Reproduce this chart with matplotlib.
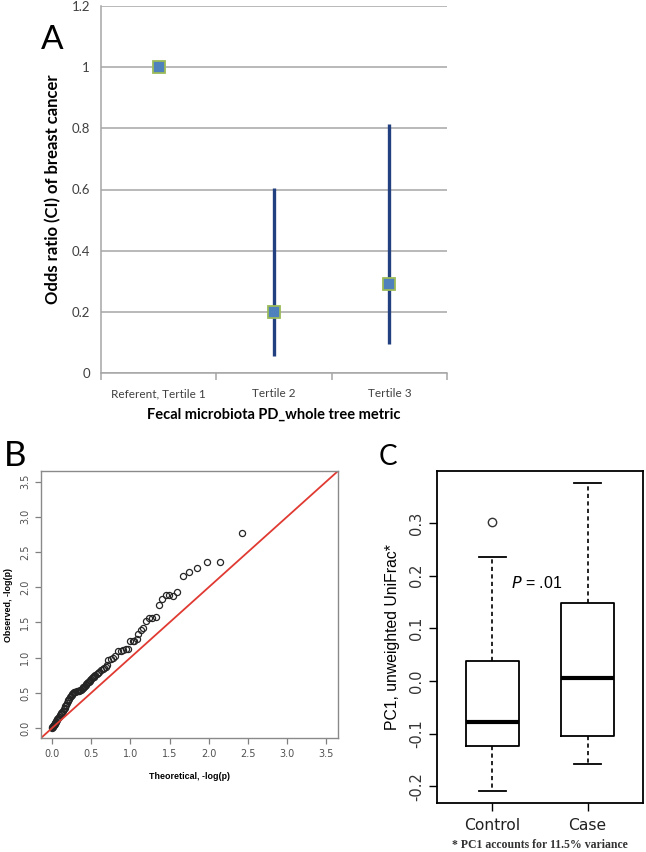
import numpy as np
import matplotlib.pyplot as plt
from matplotlib.ticker import FuncFormatter

# ---------------- Panel A: odds ratios by tertile ----------------
tertiles = ['Referent, Tertile 1', 'Tertile 2', 'Tertile 3']
odds = [1.0, 0.20, 0.29]
ci_low = [1.0, 0.055, 0.095]
ci_high = [1.0, 0.605, 0.815]

# ---------------- Panel B: QQ plot ----------------
qq_theoretical = [
    0.000, 0.005, 0.010, 0.015, 0.020, 0.025, 0.030, 0.035, 0.040, 0.045,
    0.050, 0.055, 0.060, 0.070, 0.080, 0.090, 0.100, 0.110, 0.120, 0.130,
    0.140, 0.150, 0.160, 0.170, 0.180, 0.190, 0.200, 0.210, 0.220, 0.230,
    0.240, 0.250, 0.260, 0.270, 0.280, 0.290, 0.300, 0.315, 0.330, 0.345,
    0.360, 0.370, 0.380, 0.390, 0.400, 0.410, 0.420, 0.430, 0.440, 0.450,
    0.460, 0.470, 0.480, 0.490, 0.500, 0.510, 0.520, 0.530, 0.540, 0.555,
    0.570, 0.585, 0.600, 0.620, 0.645, 0.670, 0.690, 0.700, 0.720, 0.750,
    0.780, 0.810, 0.840, 0.880, 0.910, 0.940, 0.970, 0.990, 1.030, 1.050,
    1.080, 1.100, 1.130, 1.160, 1.200, 1.240, 1.280, 1.330, 1.370, 1.405,
    1.450, 1.490, 1.540, 1.600, 1.675, 1.755, 1.857, 1.975, 2.148, 2.422,
]
qq_observed = [
    0.000, 0.010, 0.020, 0.030, 0.040, 0.045, 0.050, 0.060, 0.070, 0.080,
    0.090, 0.100, 0.110, 0.125, 0.140, 0.160, 0.180, 0.195, 0.210, 0.230,
    0.250, 0.270, 0.290, 0.310, 0.330, 0.355, 0.380, 0.400, 0.420, 0.440,
    0.460, 0.475, 0.490, 0.500, 0.510, 0.515, 0.520, 0.525, 0.530, 0.530,
    0.535, 0.545, 0.555, 0.565, 0.580, 0.590, 0.600, 0.615, 0.625, 0.640,
    0.650, 0.660, 0.675, 0.690, 0.700, 0.710, 0.720, 0.730, 0.740, 0.750,
    0.765, 0.780, 0.800, 0.820, 0.840, 0.860, 0.870, 0.900, 0.970, 0.980,
    0.990, 1.030, 1.090, 1.100, 1.110, 1.120, 1.120, 1.240, 1.240, 1.230,
    1.260, 1.340, 1.390, 1.420, 1.520, 1.560, 1.570, 1.580, 1.750, 1.840,
    1.890, 1.890, 1.880, 1.930, 2.156, 2.223, 2.270, 2.355, 2.355, 2.768,
]

# ---------------- Panel C: PC1 boxplots ----------------
groups = ['Control', 'Case']
box_q1 = [-0.123, -0.104]
box_med = [-0.079, 0.005]
box_q3 = [0.037, 0.149]
whisk_lo = [-0.209, -0.157]
whisk_hi = [0.236, 0.376]
outliers = [[0.302], []]

W, H = 646, 852
fig = plt.figure(figsize=(W / 100, H / 100), dpi=100)


def box(l, t, r, b):
    # pixel box -> figure fraction
    return [l / W, 1 - b / H, (r - l) / W, (b - t) / H]


# ---------------- A ----------------
axA = fig.add_axes(box(101, 6, 447, 373))
x = np.arange(1, len(tertiles) + 1)
axA.vlines(x, ci_low, ci_high, color='#22407f', lw=2.4, zorder=3)
axA.plot(x, odds, 's', ms=8, mfc='#4f81bd', mec='#9bbb59', mew=1.3, ls='none', zorder=4)
axA.set_xlim(0.5, 3.5)
axA.set_ylim(0, 1.2)
axA.set_yticks(np.arange(0, 1.21, 0.2))
axA.yaxis.set_major_formatter(FuncFormatter(lambda v, p: f'{v:g}'))
axA.grid(axis='y', color='#a6a6a6', lw=1.1)
axA.set_axisbelow(True)
for s in ['top', 'right']:
    axA.spines[s].set_visible(False)
for s in ['left', 'bottom']:
    axA.spines[s].set_color('#a6a6a6')
    axA.spines[s].set_linewidth(1.1)
axA.set_xticks(x)
axA.set_xticklabels(tertiles)
axA.set_xticks([0.5, 1.5, 2.5, 3.5], minor=True)
axA.tick_params(axis='x', which='major', length=0, pad=11, labelsize=8.5, labelcolor='#404040')
axA.tick_params(axis='x', which='minor', length=5, color='#a6a6a6', width=1.1)
axA.tick_params(axis='y', length=0, pad=8, labelsize=9.5, labelcolor='#404040')
for lab in axA.get_xticklabels() + axA.get_yticklabels():
    lab.set_family('Lato')
axA.set_ylabel('Odds ratio (CI) of breast cancer', family='Lato', fontsize=12,
               fontweight='bold', labelpad=7)
axA.set_xlabel('Fecal microbiota PD_whole tree metric', family='Lato', fontsize=10.5,
               fontweight='bold', labelpad=6)

# ---------------- B ----------------
axB = fig.add_axes(box(41, 471, 338, 738))
axB.plot(qq_theoretical, qq_observed, 'o', mfc='none', mec='#252525', ms=4.4, mew=0.9, ls='none')
axB.set_xlim(-0.14, 3.65)
axB.set_ylim(-0.14, 3.65)
axB.axline((0, 0), slope=1, color='#e03a32', lw=1.3)
ticksB = np.arange(0, 3.51, 0.5)
axB.set_xticks(ticksB)
axB.set_yticks(ticksB)
fmtB = FuncFormatter(lambda v, p: f'{v:.1f}')
axB.xaxis.set_major_formatter(fmtB)
axB.yaxis.set_major_formatter(fmtB)
axB.tick_params(length=4, width=0.9, color='#808080', labelsize=7, labelcolor='#505050', pad=4)
axB.tick_params(axis='y', labelrotation=90)
for lab in axB.get_yticklabels():
    lab.set_va('center')
for s in axB.spines.values():
    s.set_color('#8a8a8a')
    s.set_linewidth(1.0)
axB.set_xlabel('Theoretical, -log(p)', family='Liberation Sans', fontsize=6.4,
               fontweight='bold', labelpad=9)
axB.set_ylabel('Observed, -log(p)', family='Liberation Sans', fontsize=6.4,
               fontweight='bold', labelpad=5)

# ---------------- C ----------------
axC = fig.add_axes(box(437, 471, 643, 803))
stats = []
for i, g in enumerate(groups):
    stats.append({'label': g, 'q1': box_q1[i], 'med': box_med[i], 'q3': box_q3[i],
                  'whislo': whisk_lo[i], 'whishi': whisk_hi[i], 'fliers': outliers[i]})
axC.bxp(stats, positions=[1, 2], widths=0.56,
        boxprops=dict(color='black', lw=1.3),
        medianprops=dict(color='black', lw=3),
        whiskerprops=dict(color='black', lw=1.2, ls=(0, (2.5, 2))),
        capprops=dict(color='black', lw=1.3),
        flierprops=dict(marker='o', mfc='none', mec='#333333', ms=6, mew=1))
axC.set_xlim(0.42, 2.58)
axC.set_ylim(-0.232, 0.399)
axC.set_yticks(np.arange(-0.2, 0.31, 0.1))
axC.yaxis.set_major_formatter(FuncFormatter(lambda v, p: f'{v:.1f}'.replace('-0.0', '0.0')))
axC.tick_params(axis='y', length=6, width=1, labelsize=10.5, labelcolor='#333333',
                labelrotation=90, pad=3)
for lab in axC.get_yticklabels():
    lab.set_va('center')
axC.tick_params(axis='x', length=6, width=1, labelsize=11.2, labelcolor='#222222', pad=5)
for s in axC.spines.values():
    s.set_linewidth(1.3)
axC.set_ylabel('PC1, unweighted UniFrac*', family='Liberation Sans', fontsize=11.3, labelpad=7)
axC.text(1.2, 0.187, r'$\it{P}$ = .01', fontsize=11.5, ha='left', va='center',
         family='Liberation Sans')

# ---------------- panel letters and footnote ----------------
fig.text(52 / W, 1 - 40 / H, 'A', fontsize=24, family='Lato', ha='center', va='center')
fig.text(15 / W, 1 - 456 / H, 'B', fontsize=25, family='Lato', ha='center', va='center')
fig.text(388 / W, 1 - 457 / H, 'C', fontsize=20, family='Lato', ha='center', va='center')
fig.text(540 / W, 1 - 845 / H, '* PC1 accounts for 11.5% variance', fontsize=8.5,
         family='Liberation Serif', fontweight='bold', color='#333333',
         ha='center', va='center')

fig.savefig('out.png', dpi=100)
